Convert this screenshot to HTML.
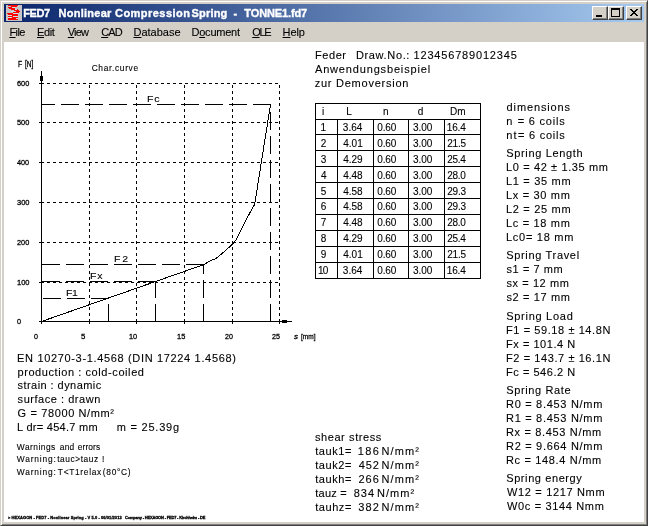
<!DOCTYPE html>
<html><head><meta charset="utf-8"><title>FED7 Nonlinear Compression Spring - TONNE1.fd7</title>
<style>
html,body{margin:0;padding:0}
body{width:648px;height:526px;overflow:hidden;position:relative;background:#d4d0c8;font-family:"Liberation Sans",sans-serif;color:#000}
.abs,.t,.btn,.btn i,.frame,.title,.client{position:absolute}
.t{white-space:pre;-webkit-text-stroke:0.1px currentColor}
.frame{left:0;top:0;width:646px;height:524px;border-right:1px solid #404040;border-bottom:1px solid #404040;border-top:1px solid #d4d0c8;border-left:1px solid #d4d0c8;box-shadow:inset 1px 1px 0 #fff,inset -1px -1px 0 #808080}
.title{left:4px;top:4px;width:640px;height:18px;background:linear-gradient(90deg,#0a246a,#a6caf0)}
.client{left:4px;top:42px;width:640px;height:480px;background:#fff}
.btn{width:16px;height:14px;background:#d4d0c8;box-sizing:border-box;border:1px solid;border-color:#fff #404040 #404040 #fff;box-shadow:inset -1px -1px 0 #808080}
.btn i{display:block;box-sizing:border-box}
.m{font-size:11px;line-height:14px;letter-spacing:0}
.m u{text-decoration:underline;text-underline-offset:1px}
</style></head>
<body>
<div class="frame"></div>
<div class="title"></div>
<svg class="abs" style="left:6px;top:5px" width="16" height="16" shape-rendering="crispEdges"><rect width="16" height="16" fill="#c6c3c6"/><rect x="2" y="0" width="10" height="1" fill="#ff0000"/><rect x="5" y="1" width="6" height="1" fill="#ff0000"/><rect x="2" y="2" width="4" height="1" fill="#ff0000"/><rect x="3" y="3" width="6" height="1" fill="#ff0000"/><rect x="5" y="4" width="7" height="1" fill="#ff0000"/><rect x="8" y="5" width="5" height="1" fill="#ff0000"/><rect x="10" y="6" width="4" height="1" fill="#ff0000"/><rect x="7" y="7" width="6" height="1" fill="#ff0000"/><rect x="1" y="8" width="6" height="1" fill="#ff0000"/><rect x="2" y="9" width="10" height="1" fill="#ff0000"/><rect x="6" y="10" width="6" height="1" fill="#ff0000"/><rect x="2" y="11" width="5" height="1" fill="#ff0000"/><rect x="6" y="12" width="6" height="1" fill="#ff0000"/><rect x="2" y="13" width="8" height="1" fill="#ff0000"/><rect x="2" y="14" width="10" height="1" fill="#ff0000"/><rect x="6" y="2" width="3" height="1" fill="#cfe4e4"/><rect x="9" y="4" width="2" height="1" fill="#cfe4e4"/><rect x="5" y="6" width="4" height="1" fill="#cfe4e4"/><rect x="7" y="8" width="5" height="1" fill="#cfe4e4"/><rect x="2" y="10" width="4" height="1" fill="#cfe4e4"/><rect x="7" y="11" width="5" height="1" fill="#cfe4e4"/><rect x="2" y="12" width="4" height="1" fill="#cfe4e4"/><rect x="10" y="13" width="2" height="1" fill="#cfe4e4"/></svg>
<div class="t" style="left:23.30px;top:6px;font-size:11px;line-height:14px;letter-spacing:-0.423px;font-weight:bold;color:#fff;-webkit-text-stroke:0.35px #fff;">FED7</div>
<div class="t" style="left:58.50px;top:6px;font-size:11px;line-height:14px;letter-spacing:0.268px;font-weight:bold;color:#fff;-webkit-text-stroke:0.35px #fff;">Nonlinear</div>
<div class="t" style="left:115.05px;top:6px;font-size:11px;line-height:14px;letter-spacing:0.456px;font-weight:bold;color:#fff;-webkit-text-stroke:0.35px #fff;">Compression</div>
<div class="t" style="left:191.62px;top:6px;font-size:11px;line-height:14px;letter-spacing:0.166px;font-weight:bold;color:#fff;-webkit-text-stroke:0.35px #fff;">Spring</div>
<div class="t" style="left:233.41px;top:6px;font-size:11px;line-height:14px;letter-spacing:0.650px;font-weight:bold;color:#fff;-webkit-text-stroke:0.35px #fff;">-</div>
<div class="t" style="left:244.30px;top:6px;font-size:11px;line-height:14px;letter-spacing:-0.118px;font-weight:bold;color:#fff;-webkit-text-stroke:0.35px #fff;">TONNE1.fd7</div>
<div class="btn" style="left:592px;top:6px"><i style="left:3px;top:8px;width:6px;height:2px;background:#000"></i></div>
<div class="btn" style="left:608px;top:6px"><i style="left:2px;top:1px;width:9px;height:9px;border:1px solid #000;border-top-width:2px"></i></div>
<div class="btn" style="left:626px;top:6px"><svg class="abs" style="left:3px;top:2px" width="8" height="7" shape-rendering="crispEdges"><path d="M0 0h2v1h-2zM6 0h2v1h-2zM1 1h2v1h-2zM5 1h2v1h-2zM2 2h4v1h-4zM3 3h2v1h-2zM2 4h4v1h-4zM1 5h2v1h-2zM5 5h2v1h-2zM0 6h2v1h-2zM6 6h2v1h-2z" fill="#000"/></svg></div>
<div class="t" style="left:9.40px;top:25px;font-size:11px;line-height:14px;letter-spacing:-0.567px;"><u>F</u>ile</div>
<div class="t" style="left:37.00px;top:25px;font-size:11px;line-height:14px;letter-spacing:-0.367px;"><u>E</u>dit</div>
<div class="t" style="left:67.82px;top:25px;font-size:11px;line-height:14px;letter-spacing:-0.873px;"><u>V</u>iew</div>
<div class="t" style="left:101.18px;top:25px;font-size:11px;line-height:14px;letter-spacing:-0.870px;"><u>C</u>AD</div>
<div class="t" style="left:133.50px;top:25px;font-size:11px;line-height:14px;letter-spacing:-0.001px;"><u>D</u>atabase</div>
<div class="t" style="left:191.50px;top:25px;font-size:11px;line-height:14px;letter-spacing:-0.229px;">D<u>o</u>cument</div>
<div class="t" style="left:252.24px;top:25px;font-size:11px;line-height:14px;letter-spacing:-1.300px;"><u>O</u>LE</div>
<div class="t" style="left:282.60px;top:25px;font-size:11px;line-height:14px;letter-spacing:-0.100px;"><u>H</u>elp</div>
<div class="client"></div>
<svg class="abs" style="left:0;top:0" width="648" height="526" shape-rendering="crispEdges" fill="none" stroke="#000" stroke-width="1"><path d="M41 282.5H280M41 242.5H280M41 202.5H280M41 162.5H280M41 122.5H280M41 83.5H280M89.5 322V83M136.5 322V83M184.5 322V83M232.5 322V83M279.5 322V83" stroke-dasharray="3 3"/><path d="M39 282.5H44M39 242.5H44M39 202.5H44M39 162.5H44M39 122.5H44M39 83.5H44M89.5 319V324M136.5 319V324M184.5 319V324M232.5 319V324M279.5 319V324"/><path d="M41.5 71V324M39 321.5H292"/><rect x="40" y="76" width="3" height="5" fill="#000" stroke="none"/><rect x="282" y="320" width="5" height="3" fill="#000" stroke="none"/><path d="M109 298.5H41" stroke-dasharray="18 6"/><path d="M108.5 322V298" stroke-dasharray="18 6"/><path d="M156 281.5H41" stroke-dasharray="18 6"/><path d="M155.5 322V281" stroke-dasharray="18 6"/><path d="M204 264.5H41" stroke-dasharray="18 6"/><path d="M203.5 322V264" stroke-dasharray="18 6"/><path d="M271 104.5H41" stroke-dasharray="18 6"/><path d="M270.5 322V104" stroke-dasharray="18 6"/><polyline points="41.5,321.5 203.8,264.6 210.4,260.8 216.1,258.5 224.7,251.3 232.9,243.7 236.1,239.9 240.8,230.4 247.5,217.1 254.7,204.3 270.5,104.5"/><rect x="315.5" y="103.5" width="165" height="175"/><path d="M315 119.5H481M315 134.5H481M315 150.5H481M315 166.5H481M315 182.5H481M315 198.5H481M315 214.5H481M315 230.5H481M315 246.5H481M315 262.5H481M337.5 119V279M373.5 119V279M408.5 119V279M444.5 119V279"/></svg>
<div class="t" style="left:17.64px;top:59px;font-size:8.4px;line-height:11px;letter-spacing:0.650px;-webkit-text-stroke:0.3px #000;transform:scaleX(0.8);transform-origin:0 0;">F</div>
<div class="t" style="left:24.92px;top:59px;font-size:8.4px;line-height:11px;letter-spacing:0.000px;-webkit-text-stroke:0.3px #000;transform:scaleX(0.78);transform-origin:0 0;">[N]</div>
<div class="t" style="left:91.66px;top:63px;font-size:8.4px;line-height:11px;letter-spacing:0.662px;">Char.curve</div>
<div class="t" style="left:16.98px;top:317px;font-size:8px;line-height:10px;letter-spacing:0.650px;-webkit-text-stroke:0.3px #000;transform:scaleX(0.9111617312072894);transform-origin:0 0;">0</div>
<div class="t" style="left:16.61px;top:278px;font-size:8px;line-height:10px;letter-spacing:0.000px;-webkit-text-stroke:0.3px #000;transform:scaleX(0.9384615384615385);transform-origin:0 0;">100</div>
<div class="t" style="left:16.93px;top:238px;font-size:8px;line-height:10px;letter-spacing:0.000px;-webkit-text-stroke:0.3px #000;transform:scaleX(0.9152288072018004);transform-origin:0 0;">200</div>
<div class="t" style="left:16.64px;top:198px;font-size:8px;line-height:10px;letter-spacing:0.000px;-webkit-text-stroke:0.3px #000;transform:scaleX(0.9355828220858896);transform-origin:0 0;">300</div>
<div class="t" style="left:17.00px;top:158px;font-size:8px;line-height:10px;letter-spacing:0.000px;-webkit-text-stroke:0.3px #000;transform:scaleX(0.9090909090909091);transform-origin:0 0;">400</div>
<div class="t" style="left:16.79px;top:118px;font-size:8px;line-height:10px;letter-spacing:0.000px;-webkit-text-stroke:0.3px #000;transform:scaleX(0.9249431387414708);transform-origin:0 0;">500</div>
<div class="t" style="left:16.86px;top:79px;font-size:8px;line-height:10px;letter-spacing:0.000px;-webkit-text-stroke:0.3px #000;transform:scaleX(0.9193669932177845);transform-origin:0 0;">600</div>
<div class="t" style="left:34.18px;top:332px;font-size:8px;line-height:10px;letter-spacing:0.650px;-webkit-text-stroke:0.3px #000;transform:scaleX(0.8883826879271068);transform-origin:0 0;">0</div>
<div class="t" style="left:80.78px;top:332px;font-size:8px;line-height:10px;letter-spacing:0.650px;-webkit-text-stroke:0.3px #000;transform:scaleX(0.9774436090225578);transform-origin:0 0;">5</div>
<div class="t" style="left:129.21px;top:332px;font-size:8px;line-height:10px;letter-spacing:0.000px;-webkit-text-stroke:0.3px #000;transform:scaleX(0.9176470588235307);transform-origin:0 0;">10</div>
<div class="t" style="left:177.01px;top:332px;font-size:8px;line-height:10px;letter-spacing:0.000px;-webkit-text-stroke:0.3px #000;transform:scaleX(0.9296781883194292);transform-origin:0 0;">15</div>
<div class="t" style="left:225.33px;top:332px;font-size:8px;line-height:10px;letter-spacing:0.000px;-webkit-text-stroke:0.3px #000;transform:scaleX(0.8833522083805222);transform-origin:0 0;">20</div>
<div class="t" style="left:272.23px;top:332px;font-size:8px;line-height:10px;letter-spacing:0.000px;-webkit-text-stroke:0.3px #000;transform:scaleX(0.8944954128440379);transform-origin:0 0;">25</div>
<div class="t" style="left:294.00px;top:332px;font-size:8px;line-height:10px;letter-spacing:0.650px;font-style:italic;-webkit-text-stroke:0.3px #000;">s</div>
<div class="t" style="left:300.82px;top:332px;font-size:8px;line-height:10px;letter-spacing:0.000px;-webkit-text-stroke:0.3px #000;transform:scaleX(0.815500289184501);transform-origin:0 0;">[mm]</div>
<div class="t" style="left:146.92px;top:93px;font-size:9px;line-height:12px;letter-spacing:0.727px;transform:scaleX(1.17);transform-origin:0 0;">Fc</div>
<div class="t" style="left:113.82px;top:253px;font-size:9px;line-height:12px;letter-spacing:1.630px;transform:scaleX(1.17);transform-origin:0 0;">F2</div>
<div class="t" style="left:90.12px;top:270px;font-size:9px;line-height:12px;letter-spacing:0.724px;transform:scaleX(1.17);transform-origin:0 0;">Fx</div>
<div class="t" style="left:66.12px;top:287px;font-size:9px;line-height:12px;letter-spacing:-0.447px;transform:scaleX(1.17);transform-origin:0 0;">F1</div>
<div class="t" style="left:315.00px;top:48px;font-size:11px;line-height:14px;letter-spacing:0.562px;">Feder</div>
<div class="t" style="left:355.90px;top:48px;font-size:11px;line-height:14px;letter-spacing:0.654px;">Draw.No.:</div>
<div class="t" style="left:413.53px;top:48px;font-size:11px;line-height:14px;letter-spacing:0.824px;">123456789012345</div>
<div class="t" style="left:314.96px;top:62px;font-size:11px;line-height:14px;letter-spacing:0.840px;">Anwendungsbeispiel</div>
<div class="t" style="left:314.64px;top:76px;font-size:11px;line-height:14px;letter-spacing:0.761px;">zur Demoversion</div>
<div class="t" style="left:506.59px;top:100px;font-size:11px;line-height:14px;letter-spacing:0.872px;">dimensions</div>
<div class="t" style="left:506.30px;top:114px;font-size:11px;line-height:14px;letter-spacing:0.650px;">n</div>
<div class="t" style="left:517.78px;top:114px;font-size:11px;line-height:14px;letter-spacing:0.782px;">= 6 coils</div>
<div class="t" style="left:506.30px;top:128px;font-size:11px;line-height:14px;letter-spacing:1.100px;">nt</div>
<div class="t" style="left:518.08px;top:128px;font-size:11px;line-height:14px;letter-spacing:0.745px;">= 6 coils</div>
<div class="t" style="left:506.22px;top:146px;font-size:11px;line-height:14px;letter-spacing:0.665px;">Spring Length</div>
<div class="t" style="left:506.00px;top:160px;font-size:11px;line-height:14px;letter-spacing:0.623px;">L0 = 42 ± 1.35 mm</div>
<div class="t" style="left:506.00px;top:174px;font-size:11px;line-height:14px;letter-spacing:0.684px;">L1 = 35 mm</div>
<div class="t" style="left:506.00px;top:188px;font-size:11px;line-height:14px;letter-spacing:0.678px;">Lx = 30 mm</div>
<div class="t" style="left:506.00px;top:202px;font-size:11px;line-height:14px;letter-spacing:0.684px;">L2 = 25 mm</div>
<div class="t" style="left:506.00px;top:216px;font-size:11px;line-height:14px;letter-spacing:0.678px;">Lc = 18 mm</div>
<div class="t" style="left:506.00px;top:230px;font-size:11px;line-height:14px;letter-spacing:0.729px;">Lc0= 18 mm</div>
<div class="t" style="left:506.22px;top:248px;font-size:11px;line-height:14px;letter-spacing:0.673px;">Spring Travel</div>
<div class="t" style="left:506.50px;top:262px;font-size:11px;line-height:14px;letter-spacing:0.575px;">s1 = 7 mm</div>
<div class="t" style="left:506.50px;top:276px;font-size:11px;line-height:14px;letter-spacing:0.573px;">sx = 12 mm</div>
<div class="t" style="left:506.50px;top:290px;font-size:11px;line-height:14px;letter-spacing:0.622px;">s2 = 17 mm</div>
<div class="t" style="left:506.22px;top:309px;font-size:11px;line-height:14px;letter-spacing:0.721px;">Spring Load</div>
<div class="t" style="left:506.00px;top:323px;font-size:11px;line-height:14px;letter-spacing:0.584px;">F1 = 59.18 ± 14.8N</div>
<div class="t" style="left:506.00px;top:337px;font-size:11px;line-height:14px;letter-spacing:0.539px;">Fx = 101.4 N</div>
<div class="t" style="left:506.00px;top:351px;font-size:11px;line-height:14px;letter-spacing:0.584px;">F2 = 143.7 ± 16.1N</div>
<div class="t" style="left:506.00px;top:365px;font-size:11px;line-height:14px;letter-spacing:0.539px;">Fc = 546.2 N</div>
<div class="t" style="left:506.22px;top:383px;font-size:11px;line-height:14px;letter-spacing:0.637px;">Spring Rate</div>
<div class="t" style="left:506.00px;top:397px;font-size:11px;line-height:14px;letter-spacing:0.704px;">R0 = 8.453 N/mm</div>
<div class="t" style="left:506.00px;top:411px;font-size:11px;line-height:14px;letter-spacing:0.704px;">R1 = 8.453 N/mm</div>
<div class="t" style="left:506.00px;top:425px;font-size:11px;line-height:14px;letter-spacing:0.661px;">Rx = 8.453 N/mm</div>
<div class="t" style="left:506.00px;top:439px;font-size:11px;line-height:14px;letter-spacing:0.704px;">R2 = 9.664 N/mm</div>
<div class="t" style="left:506.00px;top:453px;font-size:11px;line-height:14px;letter-spacing:0.661px;">Rc = 148.4 N/mm</div>
<div class="t" style="left:506.22px;top:471px;font-size:11px;line-height:14px;letter-spacing:0.594px;">Spring energy</div>
<div class="t" style="left:506.99px;top:485px;font-size:11px;line-height:14px;letter-spacing:0.667px;">W12 = 1217 Nmm</div>
<div class="t" style="left:506.99px;top:499px;font-size:11px;line-height:14px;letter-spacing:0.652px;">W0c = 3144 Nmm</div>
<div class="t" style="left:17.10px;top:351px;font-size:11px;line-height:14px;letter-spacing:0.660px;">EN 10270-3-1.4568 (DIN 17224 1.4568)</div>
<div class="t" style="left:17.44px;top:365px;font-size:11px;line-height:14px;letter-spacing:0.582px;">production : cold-coiled</div>
<div class="t" style="left:17.60px;top:378px;font-size:11px;line-height:14px;letter-spacing:0.437px;">strain : dynamic</div>
<div class="t" style="left:17.60px;top:392px;font-size:11px;line-height:14px;letter-spacing:0.536px;">surface : drawn</div>
<div class="t" style="left:17.60px;top:406px;font-size:11px;line-height:14px;letter-spacing:0.622px;">G = 78000 N/mm²</div>
<div class="t" style="left:17.10px;top:420px;font-size:11px;line-height:14px;letter-spacing:0.282px;">L dr= 454.7 mm</div>
<div class="t" style="left:116.70px;top:420px;font-size:11px;line-height:14px;letter-spacing:0.781px;">m = 25.39g</div>
<div class="t" style="left:16.86px;top:442px;font-size:8.4px;line-height:11px;letter-spacing:0.474px;">Warnings</div>
<div class="t" style="left:59.82px;top:442px;font-size:8.4px;line-height:11px;letter-spacing:0.225px;">and</div>
<div class="t" style="left:77.65px;top:442px;font-size:8.4px;line-height:11px;letter-spacing:0.146px;">errors</div>
<div class="t" style="left:16.86px;top:454px;font-size:8.4px;line-height:11px;letter-spacing:0.809px;">Warning:</div>
<div class="t" style="left:57.15px;top:454px;font-size:8.4px;line-height:11px;letter-spacing:0.569px;">tauc&gt;tauz</div>
<div class="t" style="left:101.91px;top:454px;font-size:8.4px;line-height:11px;letter-spacing:0.650px;">!</div>
<div class="t" style="left:16.86px;top:467px;font-size:8.4px;line-height:11px;letter-spacing:0.809px;">Warning:</div>
<div class="t" style="left:57.85px;top:467px;font-size:8.4px;line-height:11px;letter-spacing:0.676px;">T&lt;T1relax</div>
<div class="t" style="left:102.87px;top:467px;font-size:8.4px;line-height:11px;letter-spacing:0.682px;">(80°C)</div>
<div class="t" style="left:314.90px;top:430px;font-size:11px;line-height:14px;letter-spacing:0.595px;">shear stress</div>
<div class="t" style="left:315.20px;top:444px;font-size:11px;line-height:14px;letter-spacing:0.560px;">tauk1=</div>
<div class="t" style="left:357.83px;top:444px;font-size:11px;line-height:14px;letter-spacing:1.285px;">186</div>
<div class="t" style="left:381.60px;top:444px;font-size:11px;line-height:14px;letter-spacing:1.077px;">N/mm²</div>
<div class="t" style="left:315.20px;top:458px;font-size:11px;line-height:14px;letter-spacing:0.560px;">tauk2=</div>
<div class="t" style="left:358.79px;top:458px;font-size:11px;line-height:14px;letter-spacing:0.910px;">452</div>
<div class="t" style="left:381.60px;top:458px;font-size:11px;line-height:14px;letter-spacing:1.077px;">N/mm²</div>
<div class="t" style="left:315.20px;top:472px;font-size:11px;line-height:14px;letter-spacing:0.560px;">taukh=</div>
<div class="t" style="left:358.43px;top:472px;font-size:11px;line-height:14px;letter-spacing:0.985px;">266</div>
<div class="t" style="left:381.60px;top:472px;font-size:11px;line-height:14px;letter-spacing:1.077px;">N/mm²</div>
<div class="t" style="left:315.20px;top:486px;font-size:11px;line-height:14px;letter-spacing:0.266px;">tauz =</div>
<div class="t" style="left:353.79px;top:486px;font-size:11px;line-height:14px;letter-spacing:0.955px;">834</div>
<div class="t" style="left:376.90px;top:486px;font-size:11px;line-height:14px;letter-spacing:1.077px;">N/mm²</div>
<div class="t" style="left:315.20px;top:500px;font-size:11px;line-height:14px;letter-spacing:0.560px;">tauhz=</div>
<div class="t" style="left:358.35px;top:500px;font-size:11px;line-height:14px;letter-spacing:1.130px;">382</div>
<div class="t" style="left:381.60px;top:500px;font-size:11px;line-height:14px;letter-spacing:1.077px;">N/mm²</div>
<div class="t" style="left:321.91px;top:105px;font-size:10px;line-height:13px;letter-spacing:0.650px;">i</div>
<div class="t" style="left:346.22px;top:105px;font-size:10px;line-height:13px;letter-spacing:0.650px;">L</div>
<div class="t" style="left:383.00px;top:105px;font-size:10px;line-height:13px;letter-spacing:0.650px;">n</div>
<div class="t" style="left:417.65px;top:105px;font-size:10px;line-height:13px;letter-spacing:0.650px;">d</div>
<div class="t" style="left:449.92px;top:105px;font-size:10px;line-height:13px;letter-spacing:0.080px;">Dm</div>
<div class="t" style="left:320.42px;top:121px;font-size:10px;line-height:13px;letter-spacing:0.650px;">1</div>
<div class="t" style="left:342.82px;top:121px;font-size:10px;line-height:13px;letter-spacing:0.017px;">3.64</div>
<div class="t" style="left:377.20px;top:121px;font-size:10px;line-height:13px;letter-spacing:-0.117px;">0.60</div>
<div class="t" style="left:413.12px;top:121px;font-size:10px;line-height:13px;letter-spacing:-0.093px;">3.00</div>
<div class="t" style="left:446.82px;top:121px;font-size:10px;line-height:13px;letter-spacing:-0.183px;">16.4</div>
<div class="t" style="left:320.79px;top:137px;font-size:10px;line-height:13px;letter-spacing:0.650px;">2</div>
<div class="t" style="left:343.21px;top:137px;font-size:10px;line-height:13px;letter-spacing:0.023px;">4.01</div>
<div class="t" style="left:377.20px;top:137px;font-size:10px;line-height:13px;letter-spacing:-0.117px;">0.60</div>
<div class="t" style="left:413.12px;top:137px;font-size:10px;line-height:13px;letter-spacing:-0.093px;">3.00</div>
<div class="t" style="left:447.19px;top:137px;font-size:10px;line-height:13px;letter-spacing:-0.197px;">21.5</div>
<div class="t" style="left:320.72px;top:153px;font-size:10px;line-height:13px;letter-spacing:0.650px;">3</div>
<div class="t" style="left:343.21px;top:153px;font-size:10px;line-height:13px;letter-spacing:-0.003px;">4.29</div>
<div class="t" style="left:377.20px;top:153px;font-size:10px;line-height:13px;letter-spacing:-0.117px;">0.60</div>
<div class="t" style="left:413.12px;top:153px;font-size:10px;line-height:13px;letter-spacing:-0.093px;">3.00</div>
<div class="t" style="left:447.19px;top:153px;font-size:10px;line-height:13px;letter-spacing:-0.307px;">25.4</div>
<div class="t" style="left:321.11px;top:169px;font-size:10px;line-height:13px;letter-spacing:0.650px;">4</div>
<div class="t" style="left:343.21px;top:169px;font-size:10px;line-height:13px;letter-spacing:-0.003px;">4.48</div>
<div class="t" style="left:377.20px;top:169px;font-size:10px;line-height:13px;letter-spacing:-0.117px;">0.60</div>
<div class="t" style="left:413.12px;top:169px;font-size:10px;line-height:13px;letter-spacing:-0.093px;">3.00</div>
<div class="t" style="left:447.19px;top:169px;font-size:10px;line-height:13px;letter-spacing:-0.250px;">28.0</div>
<div class="t" style="left:320.68px;top:185px;font-size:10px;line-height:13px;letter-spacing:0.650px;">5</div>
<div class="t" style="left:343.21px;top:185px;font-size:10px;line-height:13px;letter-spacing:-0.003px;">4.58</div>
<div class="t" style="left:377.20px;top:185px;font-size:10px;line-height:13px;letter-spacing:-0.117px;">0.60</div>
<div class="t" style="left:413.12px;top:185px;font-size:10px;line-height:13px;letter-spacing:-0.093px;">3.00</div>
<div class="t" style="left:447.19px;top:185px;font-size:10px;line-height:13px;letter-spacing:-0.197px;">29.3</div>
<div class="t" style="left:320.76px;top:200px;font-size:10px;line-height:13px;letter-spacing:0.650px;">6</div>
<div class="t" style="left:343.21px;top:200px;font-size:10px;line-height:13px;letter-spacing:-0.003px;">4.58</div>
<div class="t" style="left:377.20px;top:200px;font-size:10px;line-height:13px;letter-spacing:-0.117px;">0.60</div>
<div class="t" style="left:413.12px;top:200px;font-size:10px;line-height:13px;letter-spacing:-0.093px;">3.00</div>
<div class="t" style="left:447.19px;top:200px;font-size:10px;line-height:13px;letter-spacing:-0.197px;">29.3</div>
<div class="t" style="left:320.65px;top:216px;font-size:10px;line-height:13px;letter-spacing:0.650px;">7</div>
<div class="t" style="left:343.21px;top:216px;font-size:10px;line-height:13px;letter-spacing:-0.003px;">4.48</div>
<div class="t" style="left:377.20px;top:216px;font-size:10px;line-height:13px;letter-spacing:-0.117px;">0.60</div>
<div class="t" style="left:413.12px;top:216px;font-size:10px;line-height:13px;letter-spacing:-0.093px;">3.00</div>
<div class="t" style="left:447.19px;top:216px;font-size:10px;line-height:13px;letter-spacing:-0.250px;">28.0</div>
<div class="t" style="left:320.85px;top:232px;font-size:10px;line-height:13px;letter-spacing:0.650px;">8</div>
<div class="t" style="left:343.21px;top:232px;font-size:10px;line-height:13px;letter-spacing:-0.003px;">4.29</div>
<div class="t" style="left:377.20px;top:232px;font-size:10px;line-height:13px;letter-spacing:-0.117px;">0.60</div>
<div class="t" style="left:413.12px;top:232px;font-size:10px;line-height:13px;letter-spacing:-0.093px;">3.00</div>
<div class="t" style="left:447.19px;top:232px;font-size:10px;line-height:13px;letter-spacing:-0.307px;">25.4</div>
<div class="t" style="left:320.80px;top:248px;font-size:10px;line-height:13px;letter-spacing:0.650px;">9</div>
<div class="t" style="left:343.21px;top:248px;font-size:10px;line-height:13px;letter-spacing:0.023px;">4.01</div>
<div class="t" style="left:377.20px;top:248px;font-size:10px;line-height:13px;letter-spacing:-0.117px;">0.60</div>
<div class="t" style="left:413.12px;top:248px;font-size:10px;line-height:13px;letter-spacing:-0.093px;">3.00</div>
<div class="t" style="left:447.19px;top:248px;font-size:10px;line-height:13px;letter-spacing:-0.197px;">21.5</div>
<div class="t" style="left:318.02px;top:264px;font-size:10px;line-height:13px;letter-spacing:-0.790px;">10</div>
<div class="t" style="left:342.82px;top:264px;font-size:10px;line-height:13px;letter-spacing:0.017px;">3.64</div>
<div class="t" style="left:377.20px;top:264px;font-size:10px;line-height:13px;letter-spacing:-0.117px;">0.60</div>
<div class="t" style="left:413.12px;top:264px;font-size:10px;line-height:13px;letter-spacing:-0.093px;">3.00</div>
<div class="t" style="left:446.82px;top:264px;font-size:10px;line-height:13px;letter-spacing:-0.183px;">16.4</div>
<div class="t" style="left:7.98px;top:514.6px;font-size:4px;line-height:6px;letter-spacing:0.073px;font-weight:bold;-webkit-text-stroke:0.3px #000;">&gt; HEXAGON - FED7 - Nonlinear Spring - V 5.0 - 06/01/2013</div>
<div class="t" style="left:125.00px;top:514.6px;font-size:4px;line-height:6px;letter-spacing:-0.192px;font-weight:bold;-webkit-text-stroke:0.3px #000;">Company - HEXAGON - FED7 - Kirchheim - DE</div>
</body></html>
